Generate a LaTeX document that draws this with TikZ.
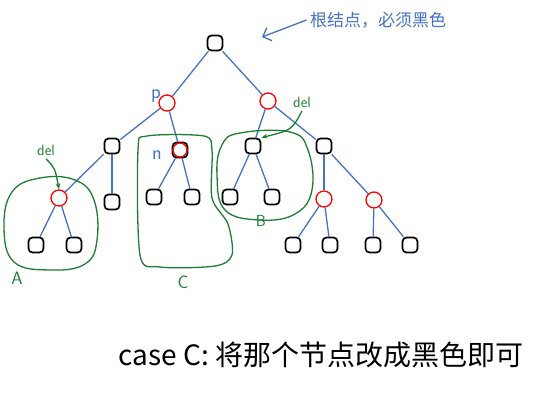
\documentclass[tikz,border=0pt]{standalone}
\usepackage{fontspec}
\newfontfamily\cjk{Noto Sans CJK SC}
\usetikzlibrary{arrows.meta}
\definecolor{penblue}{RGB}{68,114,196}
\definecolor{pengreen}{RGB}{30,125,50}
\tikzset{
  blk/.style = {draw = black, line width = 1.7pt, rounded corners = 4pt, minimum size = 15pt, inner sep = 0pt},
  rd/.style = {draw = red, line width = 1.3pt, circle, minimum size = 16pt, inner sep = 0pt},
  edge/.style = {draw = penblue, line width = 1.3pt},
  blob/.style = {draw = pengreen, line width = 1.3pt},
  hand/.style = {font = \cjk\fontsize{17}{17}\selectfont}
}
\begin{document}
\begin{tikzpicture}[x = 1pt, y = -1pt]
\useasboundingbox (0,0) rectangle (539,408);
% nodes
\node[blk] (root) at (215,43) {};
\node[rd] (p) at (167,103) {};
\node[rd] (q) at (268,101) {};
\node[blk] (pl) at (112,146) {};
\node[blk] (n) at (180,150) {};
\node[rd, minimum size = 14pt] (nr) at (180,150) {};
\node[rd] (del1) at (59,198) {};
\node[blk] (plr) at (112,202) {};
\node[blk] (a1) at (36,245) {};
\node[blk] (a2) at (74,245) {};
\node[blk] (c1) at (154,197) {};
\node[blk] (c2) at (192,197) {};
\node[blk] (ql) at (253,146) {};
\node[blk] (qr) at (324,146) {};
\node[blk] (b1) at (230,197) {};
\node[blk] (b2) at (272,197) {};
\node[rd] (r1) at (324,199) {};
\node[rd] (r2) at (374,200) {};
\node[blk] (d1) at (293,245) {};
\node[blk] (d2) at (330,245) {};
\node[blk] (d3) at (373,245) {};
\node[blk] (d4) at (410,245) {};
% edges
\foreach \u / \v in {root/p, root/q, p/pl, p/n, pl/del1, pl/plr, del1/a1, del1/a2,
  n/c1, n/c2, q/ql, q/qr, ql/b1, ql/b2, qr/r1, qr/r2, r1/d1, r1/d2, r2/d3, r2/d4}
{
  \draw[edge] (\u) -- (\v);
}
% labels
\node[text = penblue, font = \sffamily\fontsize{20}{20}\selectfont] (plab) at (156,96) {p};
\node[text = penblue, font = \sffamily\fontsize{20}{20}\selectfont] (nlab) at (157,155) {n};
% green regions
\draw[blob] plot[smooth cycle, tension = 0.7] coordinates {(12,192) (40,178) (75,180) (94,200) (97,240) (85,264) (50,270) (14,262) (4,228)};
\draw[blob] plot[smooth cycle, tension = 0.5] coordinates {(147,136) (204,136) (212,150) (212,198) (228,224) (232,255) (215,266) (160,267) (140,255) (138,150)};
\draw[blob] plot[smooth cycle, tension = 0.7] coordinates {(240,133) (290,132) (308,150) (312,190) (295,214) (260,220) (225,210) (217,175) (222,145)};
\node[text = pengreen, font = \sffamily\fontsize{18}{18}\selectfont] (alab) at (17,278) {A};
\node[text = pengreen, font = \sffamily\fontsize{16}{16}\selectfont] (blab) at (261,221) {B};
\node[text = pengreen, font = \sffamily\fontsize{18}{18}\selectfont] (clab) at (183,282) {C};
\node[text = pengreen, font = \sffamily\fontsize{15}{15}\selectfont] (dl1) at (46,150) {del};
\node[text = pengreen, font = \sffamily\fontsize{15}{15}\selectfont] (dl2) at (302,102) {del};
\draw[blob, -{Stealth[length = 6pt]}] (dl1.south) .. controls (55,168) .. (del1.north);
\draw[blob, -{Stealth[length = 6pt]}] (dl2.south) .. controls (292,130) .. (ql.north east);
% root note
\node[text = penblue, hand] (note) at (378,20) {根结点，必须黑色};
\coordinate (tip) at (262,37);
\draw[edge, -{Straight Barb[length = 7pt]}] (note.west) -- (tip);
% caption
\node[font = \cjk\fontsize{28}{28}\selectfont] (caption) at (321,355) {case C: 将那个节点改成黑色即可};
\end{tikzpicture}
\end{document}
